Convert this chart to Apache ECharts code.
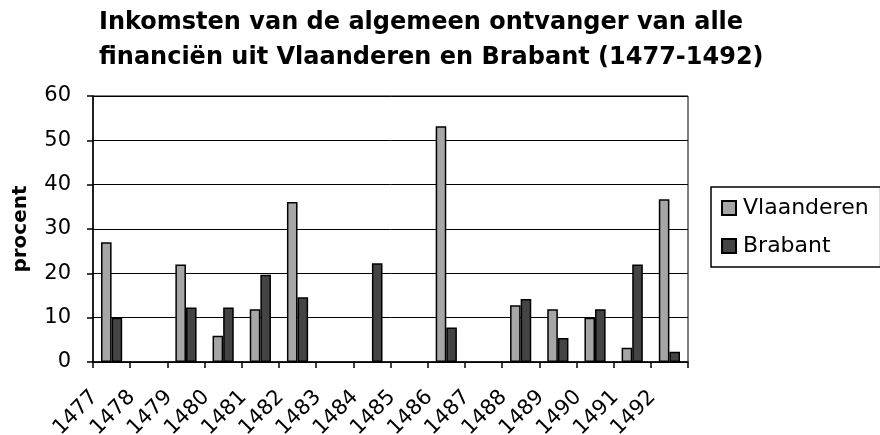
<!DOCTYPE html>
<html>
<head>
    <meta charset="utf-8"/>
    <title></title>
    <script src="https://cdn.jsdelivr.net/npm/echarts@6/dist/echarts.min.js"></script>
</head>
<body style="margin:0;background:#fff;">
<div id="main" style="width:880px;height:435px;"></div>
<script type="text/javascript">
    /* data */
    var years = ['1477', '1478', '1479', '1480', '1481', '1482', '1483', '1484',
        '1485', '1486', '1487', '1488', '1489', '1490', '1491', '1492'];
    var vlaanderen = [27, null, 22, 5.9, 11.9, 36.1, null, null, null, 53.2, null, 12.8, 11.9, 10, 3.2, 36.7];
    var brabant = [10, null, 12.3, 12.3, 19.7, 14.6, null, 22.3, null, 7.8, null, 14.2, 5.4, 11.9, 22, 2.3];
    var yTicks = {min: 0, max: 60, interval: 10};

    var font = 'DejaVu Sans';
    var chart = echarts.init(document.getElementById('main'));

    var option = {
        animation: false,
        backgroundColor: '#fff',
        title: {
            text: 'Inkomsten van de algemeen ontvanger van alle\nfinanciën uit Vlaanderen en Brabant (1477-1492)',
            left: 94,
            top: 0,
            textStyle: {
                fontFamily: font,
                fontWeight: 'bold',
                fontSize: 24,
                lineHeight: 35,
                color: '#000'
            }
        },
        legend: {
            orient: 'vertical',
            left: 711,
            top: 187,
            padding: [10, 12, 10, 10],
            itemGap: 16,
            itemWidth: 14,
            itemHeight: 14,
            borderColor: '#000',
            borderWidth: 1.5,
            icon: 'rect',
            textStyle: {fontFamily: font, fontSize: 22, color: '#000', padding: [0, 0, 0, 2]},
            data: ['Vlaanderen', 'Brabant']
        },
        grid: {
            left: 93,
            right: 192,
            top: 96,
            bottom: 73,
            outerBoundsMode: 'none',
            show: true,
            borderColor: '#000',
            borderWidth: 1
        },
        xAxis: {
            type: 'category',
            data: years,
            axisLine: {lineStyle: {color: '#000', width: 1.5}},
            axisTick: {show: true, length: 6, lineStyle: {color: '#000', width: 1.5}},
            axisLabel: {
                rotate: 45,
                interval: 0,
                margin: 15,
                padding: [0, 24, 0, 0],
                fontFamily: font,
                fontSize: 21,
                color: '#000'
            }
        },
        yAxis: {
            type: 'value',
            min: yTicks.min,
            max: yTicks.max,
            interval: yTicks.interval,
            name: 'procent',
            nameLocation: 'middle',
            nameGap: 62,
            nameTextStyle: {fontFamily: font, fontWeight: 'bold', fontSize: 20, color: '#000'},
            axisLine: {show: true, lineStyle: {color: '#000', width: 1.5}},
            axisTick: {show: true, length: 6, lineStyle: {color: '#000', width: 1.5}},
            axisLabel: {margin: 22, fontFamily: font, fontSize: 21, color: '#000'},
            splitLine: {lineStyle: {color: '#000', width: 1}}
        },
        series: [
            {
                name: 'Vlaanderen',
                type: 'bar',
                data: vlaanderen,
                barGap: '0%',
                barCategoryGap: '43%',
                itemStyle: {color: '#a6a6a6', borderColor: '#000', borderWidth: 1.5}
            },
            {
                name: 'Brabant',
                type: 'bar',
                data: brabant,
                itemStyle: {color: '#444444', borderColor: '#000', borderWidth: 1.5}
            }
        ]
    };

    chart.setOption(option);
</script>
</body>
</html>
